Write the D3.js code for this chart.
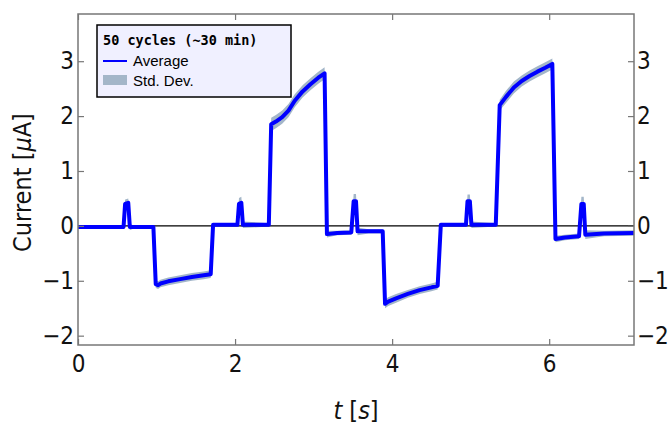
<!DOCTYPE html>
<html>
<head>
<meta charset="utf-8">
<script src="https://cdn.jsdelivr.net/npm/d3@7"></script>
<style>
  body { margin: 0; background: #fff; }
  svg { display: block; }
</style>
</head>
<body>
<svg id="chart" width="670" height="424"></svg>
<script>
// time points [s]
const times = [0.00, 0.30, 0.58, 0.60, 0.64, 0.66, 0.70, 0.96, 0.99, 1.02, 1.05, 1.15, 1.30, 1.45, 1.60, 1.69,
  1.72, 2.03, 2.05, 2.08, 2.10, 2.43, 2.46, 2.52, 2.60, 2.68, 2.76, 2.86, 2.96, 3.06, 3.14,
  3.17, 3.30, 3.48, 3.51, 3.54, 3.56, 3.70, 3.88, 3.91, 3.95, 4.05, 4.20, 4.35, 4.50, 4.58,
  4.62, 4.94, 4.96, 4.99, 5.01, 5.32, 5.37, 5.45, 5.55, 5.65, 5.75, 5.85, 5.95, 6.04,
  6.08, 6.20, 6.38, 6.41, 6.44, 6.46, 6.70, 7.08];
// average current [uA]
const average = [-0.02, -0.02, -0.02, 0.40, 0.42, -0.02, -0.02, -0.02, -1.06, -1.08, -1.05, -1.01, -0.97, -0.93, -0.90, -0.88,
  0.02, 0.02, 0.40, 0.42, 0.02, 0.02, 1.85, 1.90, 1.98, 2.10, 2.28, 2.45, 2.58, 2.70, 2.78,
  -0.15, -0.13, -0.12, 0.45, 0.45, -0.10, -0.10, -0.10, -1.42, -1.38, -1.32, -1.24, -1.17, -1.12, -1.09,
  0.02, 0.02, 0.45, 0.45, 0.02, 0.02, 2.20, 2.35, 2.52, 2.64, 2.73, 2.81, 2.88, 2.95,
  -0.24, -0.21, -0.19, 0.40, 0.40, -0.16, -0.14, -0.13];
// standard deviation [uA]
const stdDev = [0.03, 0.03, 0.03, 0.08, 0.08, 0.06, 0.03, 0.03, 0.07, 0.07, 0.07, 0.07, 0.07, 0.07, 0.07, 0.07,
  0.03, 0.03, 0.11, 0.11, 0.06, 0.03, 0.12, 0.12, 0.12, 0.12, 0.12, 0.11, 0.11, 0.11, 0.11,
  0.06, 0.04, 0.04, 0.13, 0.13, 0.07, 0.04, 0.04, 0.08, 0.08, 0.08, 0.07, 0.07, 0.07, 0.07,
  0.03, 0.03, 0.12, 0.12, 0.06, 0.03, 0.10, 0.11, 0.11, 0.10, 0.10, 0.10, 0.10, 0.10,
  0.06, 0.05, 0.05, 0.13, 0.13, 0.08, 0.05, 0.05];

const xTicks = [0, 2, 4, 6];
const yTicks = [-2, -1, 0, 1, 2, 3];

const data = times.map((t, i) => ({t: t, v: average[i], sd: stdDev[i]}));

const svg = d3.select('#chart');
const plotLeft = 78, plotRight = 634, plotTop = 14, plotBottom = 345;

const x = d3.scaleLinear().domain([0, 7.08]).range([plotLeft, plotRight]);
const y = d3.scaleLinear().domain([-2.17, 3.86]).range([plotBottom, plotTop]);

const tickFont = '"DejaVu Sans Condensed", "Liberation Sans Narrow", "DejaVu Sans", sans-serif';
const grey = '#777';

// std dev band
svg.append('path')
  .datum(data)
  .attr('fill', '#a3b6c9')
  .attr('d', d3.area().x(d => x(d.t)).y0(d => y(d.v - d.sd)).y1(d => y(d.v + d.sd)));

// zero line
svg.append('line')
  .attr('x1', plotLeft).attr('x2', plotRight)
  .attr('y1', y(0)).attr('y2', y(0))
  .attr('stroke', '#000').attr('stroke-width', 1.2);

// average line
svg.append('path')
  .datum(data)
  .attr('fill', 'none')
  .attr('stroke', '#0000ff')
  .attr('stroke-width', 4)
  .attr('stroke-linejoin', 'round')
  .attr('d', d3.line().x(d => x(d.t)).y(d => y(d.v)));

// frame
svg.append('rect')
  .attr('x', plotLeft).attr('y', plotTop)
  .attr('width', plotRight - plotLeft).attr('height', plotBottom - plotTop)
  .attr('fill', 'none').attr('stroke', grey).attr('stroke-width', 1.5);

// axes with inward ticks
const fmt = d => d < 0 ? '\u2212' + Math.abs(d) : String(d);

const xb = svg.append('g').attr('transform', `translate(0,${plotBottom})`)
  .call(d3.axisBottom(x).tickValues(xTicks).tickSize(-6).tickPadding(13).tickFormat(fmt));
const xt = svg.append('g').attr('transform', `translate(0,${plotTop})`)
  .call(d3.axisTop(x).tickValues(xTicks).tickSize(-6).tickFormat(''));
const yl = svg.append('g').attr('transform', `translate(${plotLeft},0)`)
  .call(d3.axisLeft(y).tickValues(yTicks).tickSize(-6).tickPadding(4).tickFormat(fmt));
const yr = svg.append('g').attr('transform', `translate(${plotRight},0)`)
  .call(d3.axisRight(y).tickValues(yTicks).tickSize(-6).tickPadding(3).tickFormat(fmt));

[xb, xt, yl, yr].forEach(g => {
  g.select('.domain').remove();
  g.selectAll('.tick line').attr('stroke', grey).attr('stroke-width', 1.2);
  g.selectAll('.tick text')
    .attr('fill', '#111')
    .style('font-family', tickFont)
    .style('font-size', '24px');
});
xb.selectAll('.tick text').attr('dy', '0.6em');

// axis titles
svg.append('text')
  .attr('transform', `translate(31,${(plotTop + plotBottom) / 2 + 3}) rotate(-90)`)
  .attr('text-anchor', 'middle')
  .style('font-family', tickFont).style('font-size', '25px').attr('fill', '#111')
  .html('Current [<tspan font-style="italic">\u03bc</tspan>A]');

svg.append('text')
  .attr('x', (plotLeft + plotRight) / 2).attr('y', 419)
  .attr('text-anchor', 'middle')
  .style('font-family', tickFont).style('font-size', '25px').attr('fill', '#111')
  .html('<tspan font-style="italic">t</tspan> [<tspan font-style="italic">s</tspan>]');

// legend
const lg = svg.append('g').attr('transform', 'translate(97,25)');
lg.append('rect')
  .attr('width', 194).attr('height', 72)
  .attr('fill', '#f0f0ff').attr('stroke', '#000').attr('stroke-width', 1.5);
lg.append('text')
  .attr('x', 6).attr('y', 20)
  .style('font-family', '"DejaVu Sans Mono", monospace')
  .style('font-weight', 'bold').style('font-size', '13.5px')
  .text('50 cycles (~30 min)');
lg.append('line')
  .attr('x1', 6).attr('x2', 30).attr('y1', 36).attr('y2', 36)
  .attr('stroke', '#0000ff').attr('stroke-width', 2);
lg.append('text')
  .attr('x', 36).attr('y', 41)
  .style('font-family', '"Liberation Sans", Arial, sans-serif').style('font-size', '15px')
  .text('Average');
lg.append('rect')
  .attr('x', 6).attr('y', 50).attr('width', 24).attr('height', 10)
  .attr('fill', '#a3b6c9');
lg.append('text')
  .attr('x', 36).attr('y', 61)
  .style('font-family', '"Liberation Sans", Arial, sans-serif').style('font-size', '15px')
  .text('Std. Dev.');
</script>
</body>
</html>
